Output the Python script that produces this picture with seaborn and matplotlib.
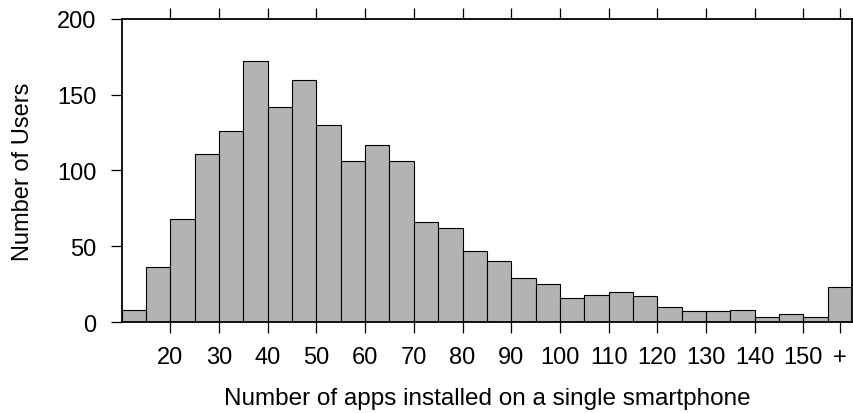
import matplotlib
matplotlib.use("Agg")
import matplotlib.pyplot as plt
import seaborn as sns
import numpy as np

# ---- data ----
bin_starts = [10, 15, 20, 25, 30, 35, 40, 45, 50, 55, 60, 65, 70, 75, 80,
              85, 90, 95, 100, 105, 110, 115, 120, 125, 130, 135, 140, 145, 150, 155]
user_counts = [8, 36, 68, 111, 126, 172, 142, 160, 130, 106, 117, 106, 66, 62, 47,
               40, 29, 25, 16, 18, 20, 17, 10, 7, 7, 8, 3, 5, 3, 23]
tick_values = [20, 30, 40, 50, 60, 70, 80, 90, 100, 110, 120, 130, 140, 150, 157.5]
tick_labels = ["20", "30", "40", "50", "60", "70", "80", "90", "100", "110",
               "120", "130", "140", "150", "+"]
y_ticks = [0, 50, 100, 150, 200]

sns.set_style("white")
plt.rcParams["font.family"] = ["Liberation Sans", "DejaVu Sans"]
plt.rcParams["text.color"] = "black"
plt.rcParams["axes.labelcolor"] = "black"
plt.rcParams["xtick.color"] = "black"
plt.rcParams["ytick.color"] = "black"

fig = plt.figure(figsize=(8.54, 4.14), dpi=100)
ax = fig.add_axes([0.1425, 0.2198, 0.8552, 0.7319])

bin_edges = bin_starts + [bin_starts[-1] + (bin_starts[1] - bin_starts[0])]
sns.histplot(x=bin_starts, weights=user_counts, bins=bin_edges, ax=ax,
             color="#b3b3b3", alpha=1.0, edgecolor="black", linewidth=0.8)

ax.set_xlim(bin_edges[0], bin_edges[-1])
ax.set_ylim(0, 200)
ax.set_xticks(tick_values)
ax.set_xticklabels(tick_labels)
ax.set_yticks(y_ticks)

ax.tick_params(axis="x", which="both", direction="out", length=8, width=0.9,
               top=True, bottom=True, labeltop=False, labelsize=17, pad=9)
ax.tick_params(axis="y", which="both", direction="out", length=8, width=0.9,
               left=True, right=False, labelsize=17, pad=10)

for s in ax.spines.values():
    s.set_visible(True)
    s.set_color("black")
    s.set_linewidth(1.3)

ax.set_xlabel("Number of apps installed on a single smartphone", fontsize=17.5, labelpad=14)
ax.set_ylabel("Number of Users", fontsize=17, labelpad=17)
ax.grid(False)

fig.savefig("out.png", dpi=100)
